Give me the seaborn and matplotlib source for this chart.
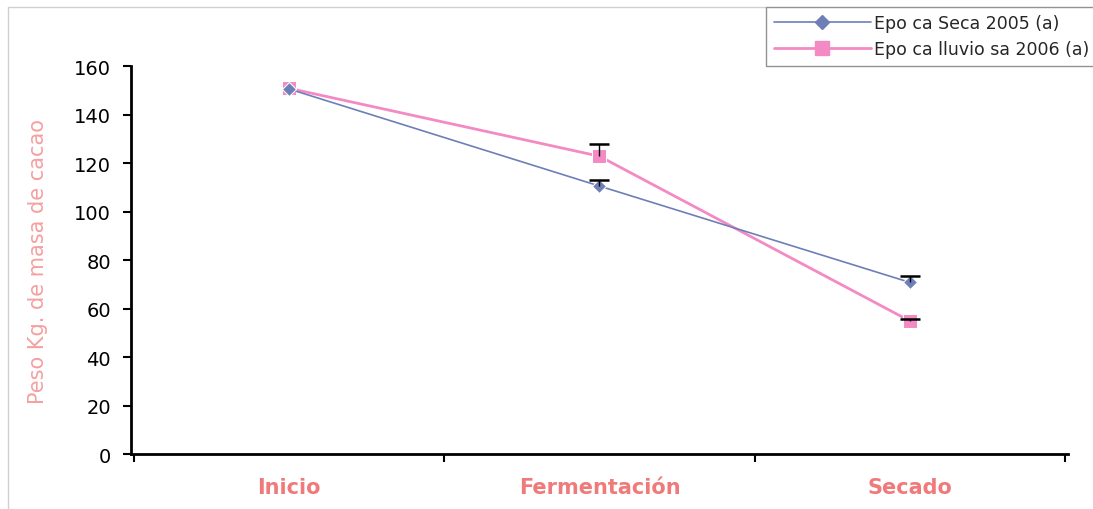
import matplotlib
matplotlib.use("Agg")
import matplotlib.pyplot as plt
import seaborn as sns
import pandas as pd
import numpy as np
from matplotlib.lines import Line2D

categories = ["Inicio", "Fermentación", "Secado"]
seca_2005 = [150.5, 110.5, 70.8]
seca_2005_err = [0.0, 2.5, 2.6]
lluviosa_2006 = [150.8, 122.8, 54.9]
lluviosa_2006_err = [0.0, 5.0, 0.6]
series_names = ["Epo ca Seca 2005 (a)", "Epo ca lluvio sa 2006 (a)"]
y_ticks = [0, 20, 40, 60, 80, 100, 120, 140, 160]

sns.set_theme(style="white")
plt.rcParams['font.family'] = ['DejaVu Sans']

df = pd.DataFrame({
    "x": list(range(len(categories))) * 2,
    "valor": seca_2005 + lluviosa_2006,
    "serie": [series_names[0]] * 3 + [series_names[1]] * 3,
})

fig = plt.figure(figsize=(10.93, 5.10), dpi=100)
ax = fig.add_axes([0.1199, 0.1078, 0.977 - 0.1199, 0.8686 - 0.1078])

blue = "#6e7fb8"
pink = "#f48ac4"
sns.lineplot(data=df, x="x", y="valor", hue="serie", style="serie",
             palette=[blue, pink], markers={series_names[0]: "D", series_names[1]: "s"},
             dashes=False, ax=ax, legend=False)
lines = ax.get_lines()
lines[0].set_linewidth(1.2); lines[0].set_markersize(7)
lines[1].set_linewidth(2.0); lines[1].set_markersize(10)
lines[0].set_zorder(3); lines[1].set_zorder(2)

xs = np.arange(len(categories))
for vals, errs in [(seca_2005, seca_2005_err), (lluviosa_2006, lluviosa_2006_err)]:
    vals = np.asarray(vals); errs = np.asarray(errs)
    m = errs > 0
    _, caps, _ = ax.errorbar(xs[m], vals[m], yerr=[np.zeros(m.sum()), errs[m]], fmt="none",
                             ecolor="black", elinewidth=1.0, capsize=7, capthick=1.8, zorder=4)
    caps[0].remove()

ax.set_xlim(-0.51, 2.51)
ax.set_ylim(0, 160)
ax.set_yticks(y_ticks)
ax.set_yticklabels([str(v) for v in y_ticks], fontsize=14, color="black")
ax.set_xticks([-0.5, 0.5, 1.5, 2.5])
ax.set_xticklabels([])
for i, c in enumerate(categories):
    ax.text(i, -0.06, c, transform=ax.get_xaxis_transform(), ha="center", va="top",
            fontsize=15, fontweight="bold", color="#f07a7a")
ax.tick_params(axis="x", direction="out", length=6, width=1.5, color="black", bottom=True)
ax.tick_params(axis="y", direction="out", length=6, width=1.5, color="black", left=True, pad=8.5)
for s in ["top", "right"]:
    ax.spines[s].set_visible(False)
for s in ["left", "bottom"]:
    ax.spines[s].set_color("black")
    ax.spines[s].set_linewidth(2)
ax.set_xlabel("")
ax.set_ylabel("Peso Kg. de masa de cacao", fontsize=15, color="#f5a0a0", labelpad=19)

handles = [Line2D([], [], color=blue, marker="D", markersize=7, lw=1.2),
           Line2D([], [], color=pink, marker="s", markersize=10, lw=2.0)]
leg = fig.legend(handles, series_names, loc="upper right", bbox_to_anchor=(1.004, 0.985),
                 fontsize=12.5, frameon=True, fancybox=False, edgecolor="#777777",
                 handlelength=5.6, handletextpad=0.2, borderpad=0.45, labelspacing=0.45,
                 borderaxespad=0.0)
leg.get_frame().set_linewidth(1.0)

fig.add_artist(Line2D([0.007, 0.007], [0.0, 0.984], transform=fig.transFigure,
                      color="#d0d0d0", lw=1.0))
fig.add_artist(Line2D([0.007, 0.70], [0.984, 0.984], transform=fig.transFigure,
                      color="#d0d0d0", lw=1.0))

fig.savefig("out.png", dpi=100)
